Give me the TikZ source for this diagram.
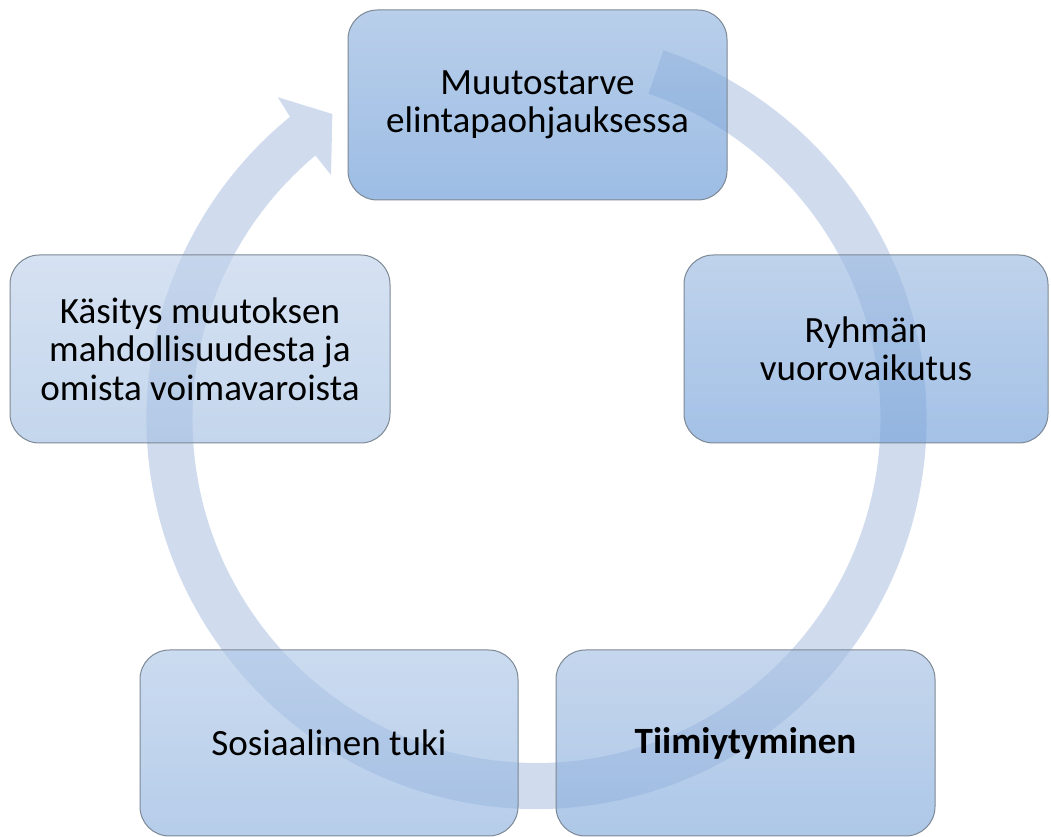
\documentclass[tikz,border=0pt]{standalone}
\usepackage{fontspec}
\setmainfont{Carlito}
\usetikzlibrary{calc}
\definecolor{bandcol}{HTML}{D0DCEE}
\definecolor{boxline}{HTML}{7C8894}
\definecolor{aT}{HTML}{93B5DF}\definecolor{aB}{HTML}{6899D6}
\definecolor{bT}{HTML}{9EBBE2}\definecolor{bB}{HTML}{72A0D9}
\definecolor{cT}{HTML}{A6C0E3}\definecolor{cB}{HTML}{82AADC}
\definecolor{dT}{HTML}{AFC8E8}\definecolor{dB}{HTML}{8FB2DF}
\definecolor{eT}{HTML}{C0D2EB}\definecolor{eB}{HTML}{A4C0E3}
\begin{document}
\begin{tikzpicture}[x=0.75pt,y=-0.75pt,
  box/.style={draw=boxline, line width=0.75pt, rounded corners=22pt,
    align=center, inner sep=0pt, fill opacity=0.65, text opacity=1,
    font=\fontsize{27.8}{28.9}\selectfont},
  band/.style={fill=bandcol}]
\useasboundingbox (0,0) rectangle (1051,837);
% circular arrow behind the boxes
\coordinate (c) at (536.5,419);
\coordinate (tailout) at ($(c)+(71:292.5pt)$);
\coordinate (barbout) at ($(c)+(128.8:309.75pt)$);
\coordinate (tip) at ($(c)+(123.8:275.25pt)$);
\coordinate (barbin) at ($(c)+(130.1:239.25pt)$);
\coordinate (notchin) at ($(c)+(130:258pt)$);
\fill[band] (tailout) arc[start angle=71, end angle=-230.8, radius=292.5pt]
  -- (barbout) -- (tip) -- (barbin) -- (notchin)
  arc[start angle=-230, end angle=71, radius=258pt] -- cycle;
% boxes
\node[box, top color=aT, bottom color=aB, minimum width=284.25pt, minimum height=142.5pt]
  (n1) at (537.5,105) {Muutostarve\\elintapaohjauksessa};
\node[box, top color=bT, bottom color=bB, minimum width=273pt, minimum height=141pt]
  (n2) at (866,349) {Ryhmän\\vuorovaikutus};
\node[box, top color=cT, bottom color=cB, minimum width=284.25pt, minimum height=139.5pt]
  (n3) at (745.5,743) {\textbf{Tiimiytyminen}};
\node[box, top color=dT, bottom color=dB, minimum width=283.5pt, minimum height=139.5pt]
  (n4) at (329,743) {Sosiaalinen tuki};
\node[box, top color=eT, bottom color=eB, minimum width=285pt, minimum height=141pt]
  (n5) at (200,349) {Käsitys muutoksen\\mahdollisuudesta ja\\omista voimavaroista};
\end{tikzpicture}
\end{document}
